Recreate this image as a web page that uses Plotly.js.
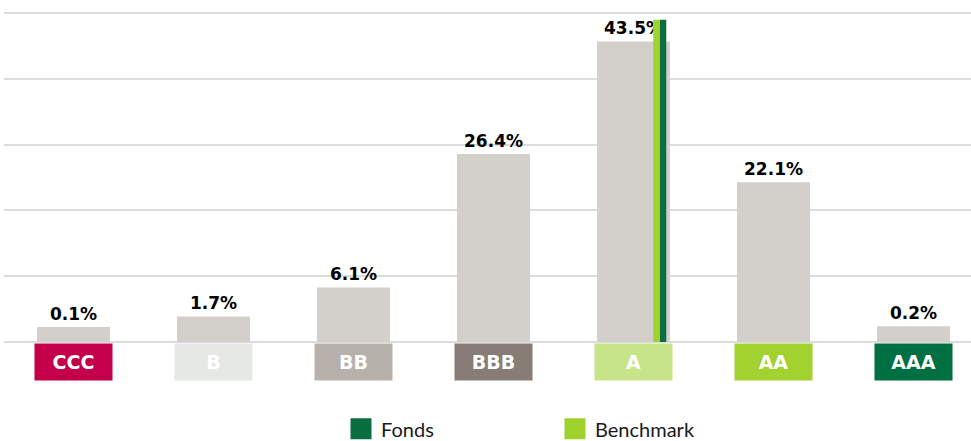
<!DOCTYPE html>
<html><head><meta charset="utf-8">
<script src="https://cdn.plot.ly/plotly-3.0.1.min.js"></script>
<style>html,body{margin:0;padding:0;background:#fff}#chart{width:971px;height:441px}</style>
</head><body><div id="chart"></div>
<script>
// ---- data ----
const categories = ['CCC', 'B', 'BB', 'BBB', 'A', 'AA', 'AAA'];
const allocation = [0.1, 1.7, 6.1, 26.4, 43.5, 22.1, 0.2];
const fonds = [null, null, null, null, 46.8, null, null];
const benchmark = [null, null, null, null, 46.8, null, null];
const labelColors = ['#c4004a', '#e6e8e6', '#b7b1ac', '#877d76', '#c7e588', '#a1d22f', '#006f41'];
const seriesNames = ['Fonds', 'Benchmark'];
const seriesColors = ['#0a6e40', '#a0d22e'];

// ---- style ----
const baseline = -2.19;           // visual floor of the bars (axis line level)
const barColor = '#d3d0cc';
const lengths = arr => arr.map(v => (v === null ? null : v - baseline));
const valueFont = { family: 'DejaVu Sans', size: 17, weight: 'bold', color: '#000' };

const traces = [
  {
    type: 'bar', x: categories, y: lengths(allocation), base: baseline,
    width: 0.521, marker: { color: barColor },
    text: allocation.map(v => v.toFixed(1) + '%'),
    textposition: 'outside', constraintext: 'none', cliponaxis: false,
    textfont: valueFont, outsidetextfont: valueFont,
    showlegend: false, hoverinfo: 'skip'
  },
  {
    type: 'bar', x: categories, y: lengths(benchmark), base: baseline,
    width: 0.048, offset: 0.141, marker: { color: seriesColors[1] },
    showlegend: false, hoverinfo: 'skip'
  },
  {
    type: 'bar', x: categories, y: lengths(fonds), base: baseline,
    width: 0.045, offset: 0.189, marker: { color: seriesColors[0] },
    showlegend: false, hoverinfo: 'skip'
  }
];
// legend entries
seriesNames.forEach((n, i) => traces.push({
  type: 'scatter', mode: 'markers', x: [null], y: [null], name: n,
  marker: { symbol: 'square', size: 16, color: seriesColors[i], line: { width: 5, color: seriesColors[i] } },
  hoverinfo: 'skip'
}));

const annotations = categories.map((c, i) => ({
  xref: 'x', yref: 'y', x: c, y: baseline, yanchor: 'top', yshift: -1,
  text: '<b>' + c + '</b>', showarrow: false,
  font: { family: 'DejaVu Sans', size: 19, color: '#ffffff' },
  bgcolor: labelColors[i], width: 77, height: 36, borderpad: 0
}));

const layout = {
  width: 971, height: 441,
  margin: { l: 4, r: 0, t: 10, b: 95 },
  paper_bgcolor: '#fff', plot_bgcolor: '#fff',
  barmode: 'overlay',
  xaxis: {
    type: 'category', categoryorder: 'array', categoryarray: categories,
    range: [-0.4964, 6.4107], showticklabels: false, showgrid: false,
    zeroline: false, showline: false, fixedrange: true
  },
  yaxis: {
    range: [-2.80, 48.27], tick0: baseline, dtick: 10,
    showticklabels: false, gridcolor: '#dcdcdc', gridwidth: 2,
    zeroline: false, showline: false, fixedrange: true
  },
  showlegend: true,
  legend: {
    orientation: 'h', x: 0.3485, xanchor: 'left',
    yref: 'container', y: 0.072, yanchor: 'top',
    font: { family: 'Lato', size: 20, color: '#1a1a1a' },
    entrywidth: 169, entrywidthmode: 'pixels', traceorder: 'normal',
    bgcolor: 'rgba(0,0,0,0)'
  },
  annotations: annotations,
  hovermode: false
};

Plotly.newPlot('chart', traces, layout, { displayModeBar: false, staticPlot: true });
</script>
</body></html>
